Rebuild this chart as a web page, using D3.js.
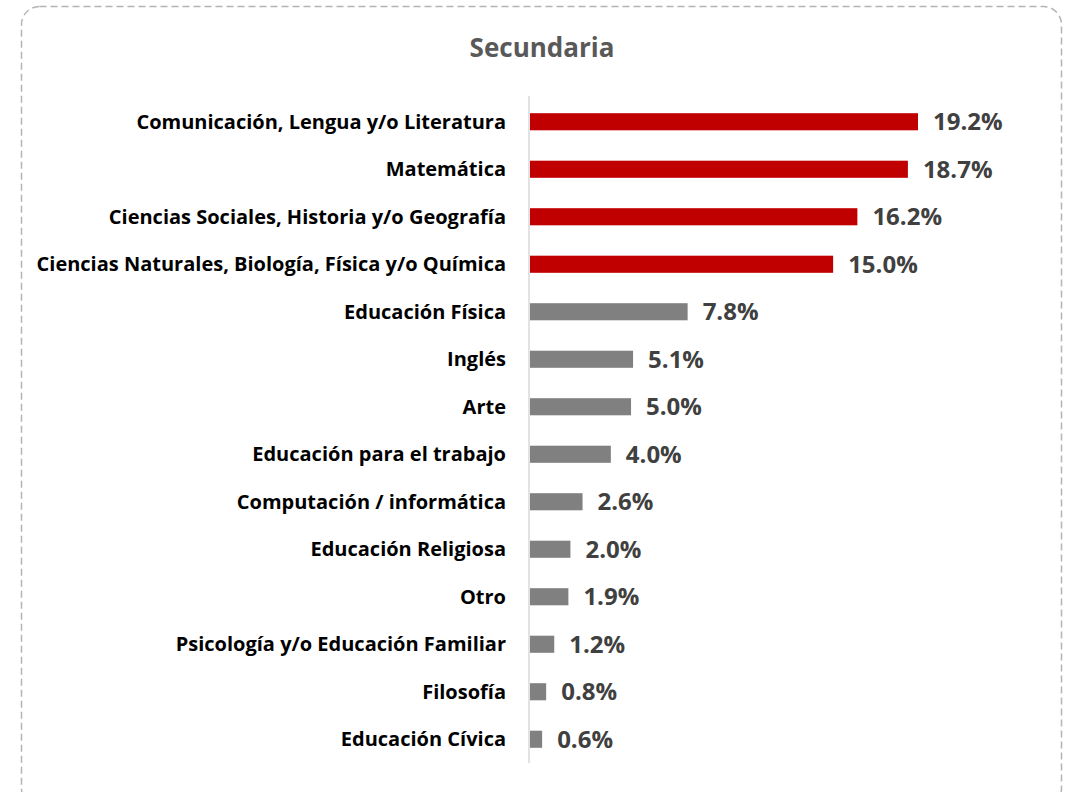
<!DOCTYPE html>
<html>
<head>
<meta charset="utf-8">
<script src="https://cdn.jsdelivr.net/npm/d3@7"></script>
<style>
  body { margin: 0; background: #fff; }
  svg { display: block; }
</style>
</head>
<body>
<svg id="chart" width="1069" height="792"></svg>
<script>
// data
var categories = [
  "Comunicación, Lengua y/o Literatura",
  "Matemática",
  "Ciencias Sociales, Historia y/o Geografía",
  "Ciencias Naturales, Biología, Física y/o Química",
  "Educación Física",
  "Inglés",
  "Arte",
  "Educación para el trabajo",
  "Computación / informática",
  "Educación Religiosa",
  "Otro",
  "Psicología y/o Educación Familiar",
  "Filosofía",
  "Educación Cívica"
];
var values = [19.2, 18.7, 16.2, 15.0, 7.8, 5.1, 5.0, 4.0, 2.6, 2.0, 1.9, 1.2, 0.8, 0.6];
var highlighted = [true, true, true, true, false, false, false, false, false, false, false, false, false, false];
var title = "Secundaria";

var W = 1069, H = 792;
var svg = d3.select("#chart");
var font = "'Open Sans', sans-serif";

// dashed rounded frame
svg.append("rect")
  .attr("x", 21.5).attr("y", 6.5)
  .attr("width", 1040).attr("height", 800)
  .attr("rx", 18).attr("ry", 18)
  .attr("fill", "none")
  .attr("stroke", "#b4b4b4")
  .attr("stroke-width", 1.5)
  .attr("stroke-dasharray", "7,4");

svg.append("text")
  .attr("x", 542).attr("y", 57)
  .attr("text-anchor", "middle")
  .attr("font-family", font)
  .attr("font-weight", "bold")
  .attr("font-size", "26px")
  .attr("fill", "#595959")
  .text(title);

var x0 = 530;
var x = d3.scaleLinear().domain([0, 19.2]).range([x0, 918]);
var y = d3.scaleBand().domain(categories).range([98, 763]).paddingInner(0.64).paddingOuter(0.32);

var rows = categories.map(function(c, i) {
  return { name: c, value: values[i], hi: highlighted[i] };
});

svg.selectAll("rect.bar")
  .data(rows)
  .enter()
  .append("rect")
  .attr("class", "bar")
  .attr("x", x0)
  .attr("y", function(d) { return y(d.name); })
  .attr("width", function(d) { return x(d.value) - x0; })
  .attr("height", y.bandwidth())
  .attr("fill", function(d) { return d.hi ? "#c00000" : "#808080"; });

// axis line
svg.append("line")
  .attr("x1", 529).attr("x2", 529)
  .attr("y1", 96).attr("y2", 763)
  .attr("stroke", "#d9d9d9")
  .attr("stroke-width", 1.5);

svg.selectAll("text.cat")
  .data(rows)
  .enter()
  .append("text")
  .attr("class", "cat")
  .attr("x", 506)
  .attr("y", function(d) { return y(d.name) + y.bandwidth() / 2; })
  .attr("dy", "0.35em")
  .attr("text-anchor", "end")
  .attr("font-family", font)
  .attr("font-weight", "bold")
  .attr("font-size", "20px")
  .attr("fill", "#000")
  .text(function(d) { return d.name; });

svg.selectAll("text.val")
  .data(rows)
  .enter()
  .append("text")
  .attr("class", "val")
  .attr("x", function(d) { return x(d.value) + 15; })
  .attr("y", function(d) { return y(d.name) + y.bandwidth() / 2; })
  .attr("dy", "0.36em")
  .attr("font-family", font)
  .attr("font-weight", "bold")
  .attr("font-size", "24px")
  .attr("fill", "#404040")
  .text(function(d) { return d.value.toFixed(1) + "%"; });
</script>
</body>
</html>
